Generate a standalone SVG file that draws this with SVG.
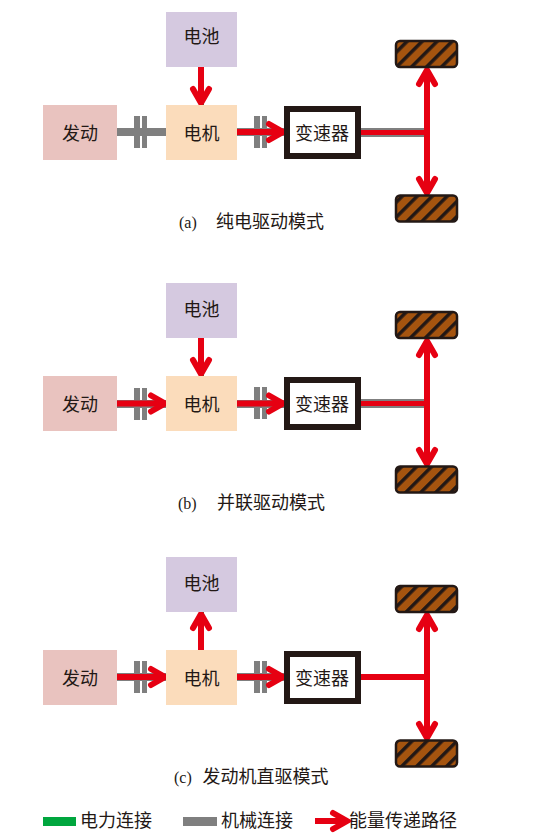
<svg xmlns="http://www.w3.org/2000/svg" width="560" height="834" viewBox="0 0 560 834">
<style>
text{font-family:"Noto Sans CJK SC","Noto Sans CJK JP",sans-serif;font-size:18px;fill:#231815;text-anchor:middle}
text.l{text-anchor:start}
tspan.s{font-family:"Liberation Serif",serif;font-size:16px}
.eng{fill:#e9c3bf}.mot{fill:#fbdcbb}.bat{fill:#d5c9e0}
.gear{fill:#fff;stroke:#231815;stroke-width:6}
.wheel{fill:url(#hatch);stroke:#231815;stroke-width:2.5}
.gray{fill:#7f7f7f}.green{fill:#00a63e}
.red{fill:none;stroke:#e60012;stroke-width:6}
.thin{stroke-width:5}
.head{fill:none;stroke:#e60012;stroke-width:6;stroke-linecap:round;stroke-linejoin:miter}
</style>
<defs>
<pattern id="hatch" width="10.6" height="10.6" patternUnits="userSpaceOnUse" patternTransform="rotate(45 395 40)">
<rect width="10.6" height="10.6" fill="#a5540f"/><rect width="3.5" height="10.6" fill="#231815"/>
</pattern>
<g id="clutch"><rect class="gray" x="0" y="0" width="6" height="32"/><rect class="gray" x="8" y="0" width="5" height="32"/></g>
<path id="hR" class="head" d="M-16-8L-2 0L-16 8"/>
<path id="hU" class="head" d="M-8 16L0 2L8 16"/>
<path id="hD" class="head" d="M-8-16L0-2L8-16"/>
</defs>

<g id="connectors">
<!-- panel a -->
<g>
<rect class="gray" x="116" y="128" width="51" height="8"/><use href="#clutch" x="134" y="116"/>
<rect class="gray" x="236" y="128" width="49" height="8"/><use href="#clutch" x="254" y="116"/>
<rect class="gray" x="358" y="128" width="69" height="9"/>
<rect class="green" x="199" y="102" width="5" height="3"/>
<path class="red" d="M201 66V101"/><use href="#hD" x="201" y="105"/>
<path class="red" d="M236 132H280"/><use href="#hR" x="285" y="132"/>
<path class="red thin" d="M358 132.500H427"/>
<path class="red" d="M427 72V191"/><use href="#hU" x="427" y="68"/><use href="#hD" x="427" y="195"/>
</g>
<!-- panel b -->
<g>
<rect class="gray" x="116" y="400" width="51" height="8"/><use href="#clutch" x="134" y="388"/>
<rect class="gray" x="236" y="400" width="49" height="8"/><use href="#clutch" x="254" y="387"/>
<rect class="gray" x="358" y="399" width="69" height="9"/>
<rect class="green" x="199" y="373" width="5" height="3"/>
<path class="red" d="M201 337V372"/><use href="#hD" x="201" y="376"/>
<path class="red" d="M116 403.500H162"/><use href="#hR" x="167" y="403.500"/>
<path class="red" d="M236 403.500H280"/><use href="#hR" x="285" y="403.500"/>
<path class="red thin" d="M358 403.500H427"/>
<path class="red" d="M427 343V462"/><use href="#hU" x="427" y="339"/><use href="#hD" x="427" y="466"/>
</g>
<!-- panel c -->
<g>
<rect class="gray" x="116" y="673" width="51" height="8"/><use href="#clutch" x="134" y="661"/>
<rect class="gray" x="236" y="673" width="49" height="8"/><use href="#clutch" x="254" y="661"/>
<rect class="green" x="199" y="611" width="5" height="3"/>
<path class="red" d="M201 650V616"/><use href="#hU" x="201" y="612"/>
<path class="red" d="M116 677H162"/><use href="#hR" x="167" y="677"/>
<path class="red" d="M236 677H280"/><use href="#hR" x="285" y="677"/>
<path class="red" d="M358 677H427"/>
<path class="red" d="M427 617V736"/><use href="#hU" x="427" y="613"/><use href="#hD" x="427" y="740"/>
</g>
</g>

<g id="a-battery"><rect class="bat" x="166" y="12" width="71" height="55"/><text x="201.500" y="43">电池</text></g>
<g id="a-engine"><rect class="eng" x="43" y="105" width="74" height="55"/><text x="80" y="140">发动</text></g>
<g id="a-motor"><rect class="mot" x="166" y="105" width="71" height="55"/><text x="201.500" y="140">电机</text></g>
<g id="a-gear"><rect class="gear" x="287" y="109" width="71" height="47"/><text x="322" y="140">变速器</text></g>
<g id="a-wheel1"><rect class="wheel" x="396" y="41" width="61" height="26" rx="4"/></g>
<g id="a-wheel2"><rect class="wheel" x="396" y="195.500" width="61" height="26" rx="4"/></g>
<text id="a-caption" x="179" y="228" class="l"><tspan class="s">(a)</tspan><tspan x="216">纯电驱动模式</tspan></text>

<g id="b-battery"><rect class="bat" x="166" y="283" width="71" height="55"/><text x="201.500" y="316">电池</text></g>
<g id="b-engine"><rect class="eng" x="43" y="376" width="74" height="55"/><text x="80" y="411">发动</text></g>
<g id="b-motor"><rect class="mot" x="166" y="376" width="71" height="55"/><text x="201.500" y="411">电机</text></g>
<g id="b-gear"><rect class="gear" x="287" y="380" width="71" height="47"/><text x="322" y="411">变速器</text></g>
<g id="b-wheel1"><rect class="wheel" x="396" y="312" width="61" height="26" rx="4"/></g>
<g id="b-wheel2"><rect class="wheel" x="396" y="466.500" width="61" height="26" rx="4"/></g>
<text id="b-caption" x="178" y="509" class="l"><tspan class="s">(b)</tspan><tspan x="217">并联驱动模式</tspan></text>

<g id="c-battery"><rect class="bat" x="166" y="557" width="71" height="55"/><text x="201.500" y="590">电池</text></g>
<g id="c-engine"><rect class="eng" x="43" y="650" width="74" height="55"/><text x="80" y="685">发动</text></g>
<g id="c-motor"><rect class="mot" x="166" y="650" width="71" height="55"/><text x="201.500" y="685">电机</text></g>
<g id="c-gear"><rect class="gear" x="287" y="654" width="71" height="47"/><text x="322" y="685">变速器</text></g>
<g id="c-wheel1"><rect class="wheel" x="396" y="586" width="61" height="26" rx="4"/></g>
<g id="c-wheel2"><rect class="wheel" x="396" y="740.500" width="61" height="26" rx="4"/></g>
<text id="c-caption" x="174" y="783" class="l"><tspan class="s">(c)</tspan><tspan x="202.500">发动机直驱模式</tspan></text>

<g id="legend">
<rect class="green" x="43" y="817" width="33" height="9"/><text class="l" x="80" y="827">电力连接</text>
<rect class="gray" x="183" y="817" width="34" height="9"/><text class="l" x="221" y="827">机械连接</text>
<path class="red" d="M315 821H343"/><use href="#hR" x="349" y="821"/><text class="l" x="349" y="827">能量传递路径</text>
</g>
</svg>
